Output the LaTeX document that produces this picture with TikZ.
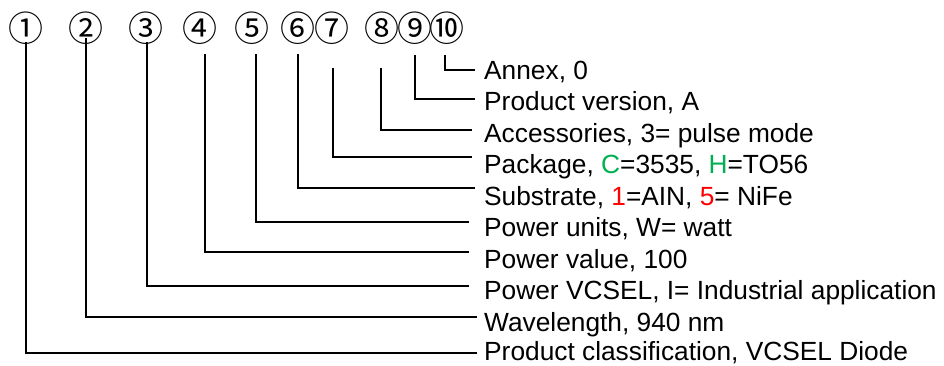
\documentclass[tikz,border=0pt]{standalone}
\usepackage{fontspec}
\setmainfont{Liberation Sans}
\newfontfamily\circfont{Noto Sans CJK SC}
\definecolor{myred}{RGB}{255,0,0}
\definecolor{mygreen}{RGB}{0,176,80}
\begin{document}
\begin{tikzpicture}[x=1pt,y=-1pt,
  circ/.style={inner sep=0pt,font=\circfont\fontsize{35}{35}\selectfont},
  lab/.style={anchor=base west,inner sep=0pt,font=\fontsize{26.3}{26.3}\selectfont},
  conn/.style={line width=1.4pt}]
\useasboundingbox (0,0) rectangle (944,365);
% circled numbers
\node[circ] (n1) at (26,28.5) {①};
\node[circ] (n2) at (86,28.5) {②};
\node[circ] (n3) at (146,28.5) {③};
\node[circ] (n4) at (200,28.5) {④};
\node[circ] (n5) at (252,28.5) {⑤};
\node[circ] (n6) at (298,28.5) {⑥};
\node[circ] (n7) at (332,28.5) {⑦};
\node[circ] (n8) at (382,28.5) {⑧};
\node[circ] (n9) at (415,28.5) {⑨};
\node[circ] (n10) at (447,28.5) {⑩};
% labels
\node[lab] (t10) at (484,79) {Annex, 0};
\node[lab] (t9) at (484,110.6) {Product version, A};
\node[lab] (t8) at (484,142.1) {Accessories, 3= pulse mode};
\node[lab] (t7) at (484,173.7) {Package, \textcolor{mygreen}{C}=3535, \textcolor{mygreen}{H}=TO56};
\node[lab] (t6) at (484,205.2) {Substrate, \textcolor{myred}{1}=AIN, \textcolor{myred}{5}= NiFe};
\node[lab] (t5) at (484,236.8) {Power units, W= watt};
\node[lab] (t4) at (484,268.4) {Power value, 100};
\node[lab] (t3) at (484,299.9) {Power VCSEL, I= Industrial application};
\node[lab] (t2) at (484,331.5) {Wavelength, 940 nm};
\node[lab] (t1) at (484,360.5) {Product classification, VCSEL Diode};
% connector ends
\coordinate (s1) at (26,42);   \coordinate (e1) at (477,353);
\coordinate (s2) at (86,38);   \coordinate (e2) at (477,317);
\coordinate (s3) at (147,42);  \coordinate (e3) at (469,286);
\coordinate (s4) at (205,54);  \coordinate (e4) at (469,252);
\coordinate (s5) at (256,54);  \coordinate (e5) at (469,222);
\coordinate (s6) at (298,54);  \coordinate (e6) at (475,188);
\coordinate (s7) at (333,68);  \coordinate (e7) at (472,157);
\coordinate (s8) at (381,68);  \coordinate (e8) at (472,130);
\coordinate (s9) at (415,55);  \coordinate (e9) at (475,99);
\coordinate (s10) at (445,55); \coordinate (e10) at (475,70);
\foreach \i in {1,...,10} \draw[conn] (s\i) |- (e\i);
\end{tikzpicture}
\end{document}
